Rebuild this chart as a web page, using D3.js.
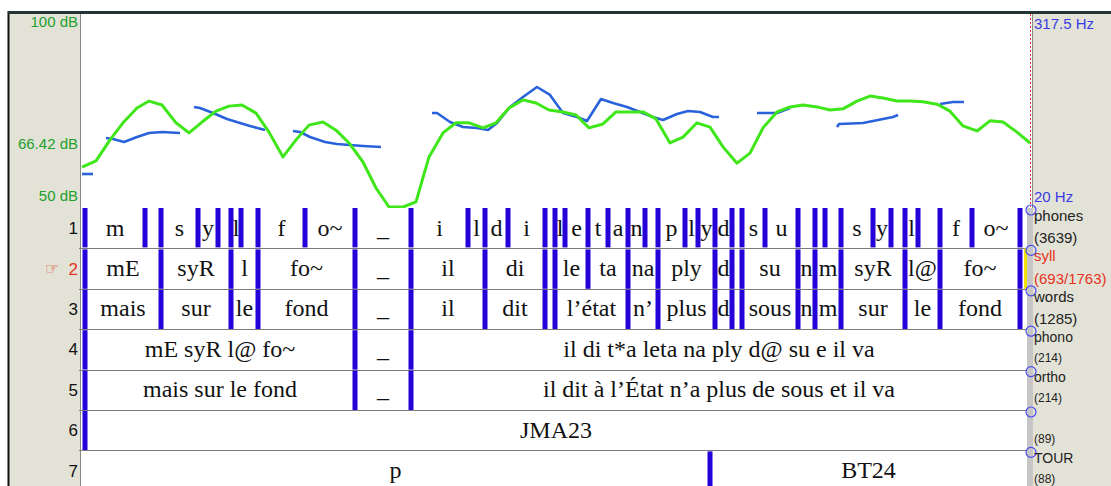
<!DOCTYPE html>
<html>
<head>
<meta charset="utf-8">
<script src="https://cdn.jsdelivr.net/npm/d3@7"></script>
<style>
  body { margin: 0; background: #fff; }
  svg { display: block; }
</style>
</head>
<body>
<div id="chart"></div>
<script>
// --- data (time in ms from window start) ---
var dbTimes = [2,30,58,84,112,136,162,190,216,242,270,296,322,350,376,404,430,456,484,510,536,564,590,616,644,670,696,724,750,776,804,830,856,884,910,936,964,990,1016,1044,1070,1096,1124,1150,1178,1204,1232,1258,1284,1312,1338,1364,1392,1418,1444,1472,1498,1524,1552,1578,1604,1632,1658,1684,1712,1738,1764,1792,1818,1844,1872,1898];
var dbValues = [60.3,61.9,67.3,71.7,75.5,77.3,76.3,71.7,69.1,71.9,74.7,76.0,76.3,74.2,69.3,62.9,67.3,71.1,71.9,69.8,66.5,61.6,54.9,50,50,51.3,62.9,69.1,71.7,71.7,70.4,71.7,75.5,77.6,76.8,75.0,74.5,73.7,70.4,71.4,74.5,74.5,74.5,72.7,66.5,68.0,71.7,70.6,65.5,61.3,63.9,70.4,74.5,75.8,76.3,75.8,75.0,75.3,77.3,78.6,78.1,77.3,77.3,77.1,76.5,74.7,70.9,69.6,72.2,71.9,69.3,66.5];

// pitch, one list per voiced stretch
var f0Times = [
  [2,24],
  [50,64,86,112,136,162,198],
  [226,238,264,292,318,338,368],
  [424,438,458,488,512,538,564,600],
  [702,712,738,764,792,814,832,858,884,912,938,964,992,1012,1040,1064,1092,1118,1144,1164,1192,1214,1238,1264,1276],
  [1352,1392,1418],
  [1512,1516,1564,1604,1624,1634],
  [1718,1744,1766]
];
var f0Hz = [
  [70.6,70.6],
  [125.8,124.3,119.7,127.3,133.5,135.0,133.5],
  [173.4,171.8,164.1,155.0,148.8,144.2,138.1],
  [136.5,135.0,127.3,119.7,116.6,115.1,113.6,112.0],
  [164.1,164.1,150.3,142.7,141.1,138.1,148.8,173.4,188.7,204.0,191.8,164.1,158.0,151.9,185.6,179.5,173.4,165.7,158.0,153.4,162.6,167.2,165.7,158.0,158.0],
  [164.1,164.1,171.8],
  [142.7,147.3,148.8,155.0,158.0,161.1],
  [177.9,181.0,181.0]
];

var dbTicks = [100, 66.42, 50];
var hzTicks = [317.5, 20];

var phonesBounds = [8,128,160,234,274,300,320,354,448,548,660,774,808,854,928,948,968,1014,1054,1094,1128,1154,1208,1234,1268,1302,1322,1368,1434,1468,1488,1520,1584,1620,1648,1674,1718,1782,1878];
var phonesLabels = ["m","","s","y","","l","","f","o~","_","i","l","d","i","","l","e","t","a","n","","p","l","y","d","","s","u","","","","s","y","","l","","f","o~"];
var syllBounds = [8,160,300,354,548,660,808,928,948,1014,1094,1154,1268,1302,1322,1434,1468,1520,1648,1718,1878];
var syllLabels = ["mE","syR","l","fo~","_","il","di","","le","ta","na","ply","d","","su","n","m","syR","l@","fo~"];
var wordsBounds = [8,160,300,354,548,660,808,928,948,1094,1154,1268,1302,1322,1434,1468,1520,1648,1718,1878];
var wordsLabels = ["mais","sur","le","fond","_","il","dit","","l\u2019\u00e9tat","n\u2019","plus","d","","sous","n","m","sur","le","fond"];
var phonoBounds = [8,548,660,2400];
var phonoLabels = ["mE syR l@ fo~","_","il di t*a leta na ply d@ su e il va"];
var orthoBounds = [8,548,660,2400];
var orthoLabels = ["mais sur le fond","_","il dit \u00e0 l\u2019\u00c9tat n\u2019a plus de sous et il va"];
var spkBounds = [8,2400];
var spkLabels = ["JMA23"];
var tourBounds = [-600,1258,2400];
var tourLabels = ["p","BT24"];

var tierNames = ["phones","syll","words","phono","ortho","","TOUR"];
var tierCounts = ["(3639)","(693/1763)","(1285)","(214)","(214)","(89)","(88)"];
var rowNumbers = ["1","2","3","4","5","6","7"];

// --- layout ---
var W = 1111, H = 486;
var plotL = 81, plotR = 1031, plotT = 13, plotB = 207;
var tierR = 1027, tierTop = 208, rowH = 40.4;
var serif = "'Liberation Serif', 'Times New Roman', serif";
var sans = "'Liberation Sans', Arial, sans-serif";
var beige = '#e3e2d7';

var x = d3.scaleLinear().domain([0, 1900]).range([plotL, plotR]);
var yDb = d3.scaleLinear().domain([50, 100]).range([plotB, plotT]);
var yHz = d3.scaleLinear().domain([20, 317.5]).range([plotB, plotT]);

var svg = d3.select('#chart').append('svg')
  .attr('width', W)
  .attr('height', H)
  .style('font-family', sans);

// side panels
svg.append('rect').attr('x', 9).attr('y', 13).attr('width', plotL - 9).attr('height', H - 13).attr('fill', beige);
svg.append('rect').attr('x', plotR + 1).attr('y', 13).attr('width', W - plotR - 1).attr('height', H - 13).attr('fill', beige);
svg.append('line').attr('x1', 80.5).attr('x2', 80.5).attr('y1', 13).attr('y2', H).attr('stroke', '#8a8a84');
svg.append('line').attr('x1', plotR + 1.5).attr('x2', plotR + 1.5).attr('y1', 13).attr('y2', H).attr('stroke', '#8a8a84');
svg.append('line').attr('x1', 8.5).attr('x2', 8.5).attr('y1', 11).attr('y2', H).attr('stroke', '#111').attr('stroke-width', 2);
svg.append('line').attr('x1', 8).attr('x2', W).attr('y1', 12.5).attr('y2', 12.5).attr('stroke', '#243434').attr('stroke-width', 3);

// --- curves ---
svg.append('defs').append('clipPath').attr('id', 'plotclip')
  .append('rect').attr('x', plotL).attr('y', plotT + 1).attr('width', plotR - plotL).attr('height', plotB - plotT);
var plot = svg.append('g').attr('clip-path', 'url(#plotclip)');

var f0Line = d3.line()
  .x(function(d){ return x(d[0]); })
  .y(function(d){ return yHz(d[1]); });
f0Times.forEach(function(ts, i){
  plot.append('path')
    .datum(ts.map(function(t, j){ return [t, f0Hz[i][j]]; }))
    .attr('d', f0Line)
    .attr('fill', 'none')
    .attr('stroke', '#2a62dc')
    .attr('stroke-width', 2.6)
    .attr('stroke-linejoin', 'round');
});

var dbLine = d3.line()
  .x(function(d){ return x(d[0]); })
  .y(function(d){ return yDb(d[1]); });
plot.append('path')
  .datum(dbTimes.map(function(t, i){ return [t, dbValues[i]]; }))
  .attr('d', dbLine)
  .attr('fill', 'none')
  .attr('stroke', '#3fe61a')
  .attr('stroke-width', 3)
  .attr('stroke-linejoin', 'round');

// red cursor
svg.append('line')
  .attr('x1', plotR - 0.5).attr('x2', plotR - 0.5)
  .attr('y1', plotT + 1).attr('y2', plotB)
  .attr('stroke', '#f22').attr('stroke-dasharray', '2,2');

// axis labels
svg.selectAll('text.db').data(dbTicks).enter()
  .append('text')
  .attr('x', 78)
  .attr('y', function(d){
    if (d === 100) return plotT + 9;
    if (d === 50) return plotB - 11;
    return yDb(d);
  })
  .attr('dy', '0.36em')
  .attr('text-anchor', 'end')
  .attr('font-size', 15)
  .attr('fill', '#22a02a')
  .text(function(d){ return d + ' dB'; });

svg.selectAll('text.hz').data(hzTicks).enter()
  .append('text')
  .attr('x', plotR + 3)
  .attr('y', function(d, i){ return i === 0 ? plotT + 11 : plotB - 10; })
  .attr('dy', '0.36em')
  .attr('font-size', 15)
  .attr('fill', '#3a3ae6')
  .text(function(d){ return d + ' Hz'; });

// --- annotation tiers ---
var tiers = [
  { b: phonesBounds, l: phonesLabels },
  { b: syllBounds, l: syllLabels },
  { b: wordsBounds, l: wordsLabels },
  { b: phonoBounds, l: phonoLabels },
  { b: orthoBounds, l: orthoLabels },
  { b: spkBounds, l: spkLabels },
  { b: tourBounds, l: tourLabels }
];

svg.append('rect')
  .attr('x', plotL).attr('y', tierTop)
  .attr('width', tierR - plotL).attr('height', H - tierTop)
  .attr('fill', '#fff');

tiers.forEach(function(tier, r){
  var top = tierTop + r * rowH;
  var g = svg.append('g').classed('tier', true);

  if (r > 0) {
    g.append('line')
      .attr('x1', plotL - 2).attr('x2', tierR)
      .attr('y1', Math.round(top) + 0.5).attr('y2', Math.round(top) + 0.5)
      .attr('stroke', '#7c7c7c');
  }

  // boundaries inside the window
  var inside = tier.b.filter(function(t){ return t >= 0 && t <= 1900; });
  g.selectAll('rect.bound').data(inside).enter()
    .append('rect')
    .attr('x', function(d){ return x(d) - 2.5; })
    .attr('y', top + (r > 0 ? 1 : 0))
    .attr('width', 5)
    .attr('height', rowH - 1)
    .attr('fill', '#2600d8');

  var cells = tier.l.map(function(lab, i){
    var a = Math.max(x(tier.b[i]), plotL);
    var b = Math.min(x(tier.b[i + 1]), tierR);
    return { label: lab, cx: (a + b) / 2 };
  }).filter(function(d){ return d.label !== ''; });

  g.selectAll('text.lab').data(cells).enter()
    .append('text')
    .attr('x', function(d){ return d.cx; })
    .attr('y', top + 27.5)
    .attr('text-anchor', 'middle')
    .attr('font-family', serif)
    .attr('font-size', 24)
    .attr('fill', '#111')
    .text(function(d){ return d.label; });
});

// scroll strip at right of tiers, current tier marked yellow
svg.append('rect').attr('x', tierR).attr('y', tierTop).attr('width', 6).attr('height', H - tierTop).attr('fill', '#c6c6c6');
svg.append('rect').attr('x', tierR - 3).attr('y', tierTop + rowH).attr('width', 3).attr('height', rowH).attr('fill', '#f2e200');

// row numbers on the left
rowNumbers.forEach(function(n, r){
  var top = tierTop + r * rowH;
  var red = (r === 1);
  svg.append('text')
    .attr('x', 78).attr('y', top + 20).attr('dy', '0.36em')
    .attr('text-anchor', 'end')
    .attr('font-size', 17)
    .attr('fill', red ? '#e8321e' : '#111')
    .text(n);
  if (red) {
    svg.append('text')
      .attr('x', 45).attr('y', top + 20).attr('dy', '0.36em')
      .attr('font-family', "'DejaVu Sans', sans-serif")
      .attr('font-size', 16)
      .attr('fill', '#e8321e')
      .text('\u261e');
  }
});

// tier names + counts on the right
tierNames.forEach(function(name, r){
  var top = tierTop + r * rowH;
  var col = (r === 1) ? '#e8321e' : '#222';
  var big = r < 3;
  svg.append('circle')
    .attr('cx', plotR).attr('cy', top + 2).attr('r', 5)
    .attr('fill', 'none').attr('stroke', '#4a4af0').attr('stroke-width', 1.2);
  svg.append('text')
    .attr('x', plotR + 3).attr('y', top + 7.5).attr('dy', '0.36em')
    .attr('font-size', big ? 15 : 14)
    .attr('fill', col)
    .text(name);
  svg.append('text')
    .attr('x', plotR + 3).attr('y', top + (big ? 30 : 28.5)).attr('dy', '0.36em')
    .attr('font-size', big ? 15 : 12)
    .attr('fill', col)
    .text(tierCounts[r]);
});
</script>
</body>
</html>
